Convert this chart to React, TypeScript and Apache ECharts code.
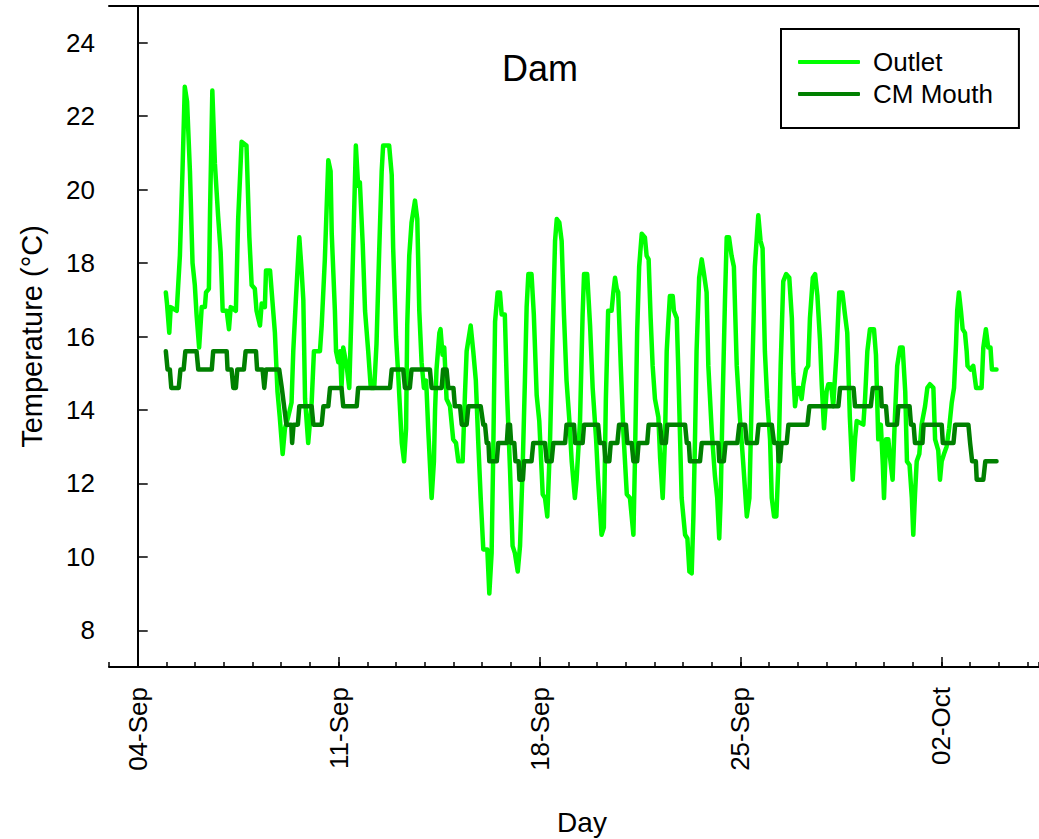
import React, { useEffect, useRef } from "react";
import * as echarts from "echarts";

// Time is in days after 04-Sep 00:00; temperatures in °C.
const outletSeries: [number, number][] = [
  [0.98, 17.2], [1.02, 16.9], [1.10, 16.1], [1.15, 16.8], [1.36, 16.7], [1.47, 18.2], [1.56, 20.5], [1.64, 22.8],
  [1.72, 22.4], [1.82, 20.5], [1.91, 18.0], [1.99, 17.4], [2.05, 16.6], [2.14, 15.7], [2.23, 16.8], [2.34, 16.8],
  [2.38, 17.2], [2.48, 17.3], [2.52, 19.4], [2.60, 22.7], [2.69, 20.7], [2.80, 19.3], [2.89, 18.3], [2.96, 16.7],
  [3.10, 16.7], [3.18, 16.2], [3.24, 16.8], [3.42, 16.7], [3.50, 19.2], [3.62, 21.3], [3.79, 21.2], [3.89, 18.7],
  [3.97, 17.4], [4.08, 17.3], [4.14, 16.7], [4.26, 16.3], [4.32, 16.9], [4.43, 16.8], [4.47, 17.8], [4.61, 17.8],
  [4.70, 16.9], [4.78, 16.1], [4.87, 14.5], [4.95, 13.8], [5.05, 12.8], [5.13, 13.5], [5.24, 13.8], [5.36, 14.2],
  [5.42, 15.6], [5.51, 17.0], [5.63, 18.7], [5.71, 17.8], [5.77, 17.0], [5.83, 14.3], [5.94, 13.1], [6.06, 14.2],
  [6.14, 15.6], [6.35, 15.6], [6.41, 16.3], [6.52, 18.1], [6.64, 20.8], [6.72, 20.5], [6.76, 18.8], [6.87, 16.7],
  [6.91, 15.6], [6.99, 15.3], [7.05, 15.6], [7.10, 14.6], [7.16, 15.7], [7.28, 15.2], [7.37, 14.6], [7.45, 16.7],
  [7.51, 18.5], [7.60, 21.2], [7.68, 20.1], [7.74, 20.2], [7.84, 18.5], [7.92, 16.7], [8.03, 15.6], [8.12, 14.6],
  [8.24, 14.6], [8.32, 15.8], [8.42, 18.5], [8.50, 20.5], [8.55, 21.2], [8.76, 21.2], [8.85, 20.4], [8.90, 18.4],
  [9.00, 16.0], [9.08, 14.9], [9.20, 13.1], [9.28, 12.6], [9.35, 13.5], [9.39, 16.3], [9.46, 18.2], [9.54, 19.1],
  [9.66, 19.7], [9.74, 19.2], [9.81, 16.7], [9.89, 15.3], [9.97, 14.6], [10.05, 14.8], [10.12, 13.5], [10.24, 11.6],
  [10.32, 12.6], [10.36, 14.0], [10.41, 15.1], [10.51, 16.1], [10.55, 16.2], [10.62, 15.5], [10.68, 15.7], [10.76, 14.3],
  [10.88, 14.1], [10.99, 13.2], [11.09, 13.1], [11.17, 12.6], [11.32, 12.6], [11.40, 14.4], [11.46, 15.6], [11.60, 16.3],
  [11.69, 15.6], [11.78, 14.8], [11.86, 13.2], [11.95, 11.6], [12.04, 10.2], [12.18, 10.2], [12.25, 9.0], [12.33, 10.1],
  [12.39, 13.0], [12.45, 16.4], [12.54, 17.2], [12.62, 17.2], [12.68, 16.6], [12.79, 16.6], [12.87, 14.4], [12.97, 12.4],
  [13.06, 10.3], [13.14, 10.1], [13.24, 9.6], [13.32, 10.3], [13.41, 12.4], [13.49, 14.8], [13.55, 16.8], [13.61, 17.7],
  [13.72, 17.7], [13.80, 16.6], [13.90, 14.4], [13.99, 13.7], [14.11, 11.7], [14.19, 11.6], [14.27, 11.1], [14.36, 13.0],
  [14.46, 16.2], [14.54, 18.6], [14.60, 19.2], [14.69, 19.1], [14.77, 18.6], [14.85, 16.6], [14.94, 14.8], [15.04, 13.7],
  [15.12, 12.6], [15.23, 11.6], [15.29, 12.1], [15.41, 13.7], [15.50, 16.6], [15.55, 17.7], [15.66, 17.7], [15.76, 16.3],
  [15.85, 14.6], [15.97, 13.2], [16.04, 12.1], [16.16, 10.6], [16.24, 10.8], [16.31, 14.3], [16.39, 16.7], [16.51, 16.7],
  [16.57, 17.2], [16.63, 17.6], [16.69, 17.3], [16.74, 17.2], [16.83, 15.2], [16.92, 13.4], [17.04, 11.7], [17.15, 11.6],
  [17.21, 11.1], [17.27, 10.6], [17.32, 12.5], [17.40, 16.1], [17.47, 17.9], [17.56, 18.8], [17.67, 18.7], [17.73, 18.2],
  [17.80, 18.1], [17.87, 16.5], [17.94, 15.2], [18.02, 14.3], [18.14, 13.8], [18.20, 12.7], [18.29, 11.6], [18.37, 13.2],
  [18.43, 15.6], [18.48, 16.3], [18.54, 17.1], [18.64, 17.1], [18.68, 16.7], [18.78, 16.5], [18.83, 15.2], [18.89, 13.4],
  [18.95, 11.6], [19.07, 10.6], [19.15, 10.5], [19.22, 9.6], [19.30, 9.55], [19.36, 11.1], [19.42, 13.4], [19.47, 15.6],
  [19.56, 17.6], [19.65, 18.1], [19.73, 17.7], [19.82, 17.2], [19.88, 15.2], [20.00, 13.4], [20.11, 12.2], [20.19, 11.6],
  [20.26, 10.5], [20.31, 11.6], [20.38, 14.3], [20.46, 17.0], [20.52, 18.7], [20.60, 18.7], [20.69, 18.2], [20.77, 17.9],
  [20.87, 15.2], [20.98, 13.8], [21.10, 12.5], [21.22, 11.1], [21.31, 11.6], [21.39, 14.3], [21.50, 17.9], [21.62, 19.3],
  [21.70, 18.6], [21.77, 18.4], [21.85, 15.6], [21.93, 14.3], [22.03, 13.2], [22.09, 11.6], [22.17, 11.1], [22.25, 11.1],
  [22.32, 12.5], [22.40, 15.2], [22.49, 17.5], [22.59, 17.7], [22.70, 17.6], [22.79, 16.5], [22.84, 15.0], [22.90, 14.1],
  [22.98, 14.6], [23.06, 14.6], [23.13, 14.3], [23.19, 14.7], [23.28, 15.1], [23.36, 15.2], [23.42, 16.5], [23.52, 17.6],
  [23.60, 17.7], [23.68, 17.1], [23.77, 15.9], [23.83, 14.7], [23.91, 13.5], [24.00, 14.5], [24.06, 14.7], [24.16, 14.7],
  [24.23, 14.1], [24.35, 15.6], [24.44, 17.2], [24.55, 17.2], [24.64, 16.6], [24.72, 16.1], [24.81, 13.8], [24.91, 12.1],
  [24.99, 13.2], [25.05, 13.7], [25.28, 13.6], [25.34, 14.3], [25.42, 15.6], [25.51, 16.2], [25.65, 16.2], [25.72, 15.5],
  [25.80, 13.2], [25.89, 13.6], [25.96, 12.5], [26.00, 11.6], [26.07, 13.2], [26.15, 13.2], [26.21, 12.7], [26.30, 12.1],
  [26.38, 13.8], [26.46, 15.2], [26.56, 15.7], [26.65, 15.7], [26.74, 14.5], [26.80, 12.6], [26.89, 12.5], [26.97, 11.6],
  [27.02, 10.6], [27.08, 11.7], [27.14, 12.6], [27.23, 12.8], [27.31, 13.6], [27.43, 14.1], [27.51, 14.6], [27.60, 14.7],
  [27.72, 14.6], [27.78, 13.2], [27.89, 12.9], [27.95, 12.1], [28.01, 12.6], [28.09, 12.8], [28.18, 13.0], [28.27, 13.5],
  [28.36, 14.2], [28.44, 14.6], [28.51, 15.8], [28.55, 16.7], [28.61, 17.2], [28.68, 16.7], [28.74, 16.2], [28.82, 16.1],
  [28.88, 15.6], [28.91, 15.2], [29.02, 15.1], [29.11, 15.2], [29.21, 14.6], [29.40, 14.6], [29.46, 15.7], [29.55, 16.2],
  [29.63, 15.7], [29.71, 15.7], [29.76, 15.1], [29.92, 15.1],
];

// CM Mouth logger readings step in roughly half-degree increments.
const cmMouthSeries: [number, number][] = [
  [0.98, 15.6], [1.04, 15.1], [1.12, 15.1], [1.17, 14.6], [1.43, 14.6], [1.49, 15.1], [1.60, 15.1], [1.66, 15.6],
  [2.05, 15.6], [2.11, 15.1], [2.58, 15.1], [2.63, 15.6], [3.10, 15.6], [3.13, 15.1], [3.27, 15.1], [3.33, 14.6],
  [3.42, 14.6], [3.47, 15.1], [3.70, 15.1], [3.76, 15.6], [4.12, 15.6], [4.16, 15.1], [4.35, 15.1], [4.41, 14.6],
  [4.47, 15.1], [4.93, 15.1], [5.02, 14.6], [5.10, 14.1], [5.18, 13.6], [5.35, 13.6], [5.38, 13.1], [5.43, 13.6],
  [5.58, 13.6], [5.63, 14.1], [6.06, 14.1], [6.12, 13.6], [6.41, 13.6], [6.47, 14.1], [6.64, 14.1], [6.70, 14.6],
  [7.10, 14.6], [7.16, 14.1], [7.63, 14.1], [7.68, 14.6], [8.79, 14.6], [8.85, 15.1], [9.25, 15.1], [9.31, 14.6],
  [9.48, 14.6], [9.54, 15.1], [10.18, 15.1], [10.24, 14.6], [10.59, 14.6], [10.64, 15.1], [10.76, 15.1], [10.82, 14.6],
  [11.00, 14.6], [11.05, 14.1], [11.23, 14.1], [11.29, 13.6], [11.46, 13.6], [11.52, 14.1], [11.95, 14.1], [12.04, 13.6],
  [12.10, 13.6], [12.16, 13.1], [12.22, 13.1], [12.25, 12.6], [12.51, 12.6], [12.56, 13.1], [12.86, 13.1], [12.90, 13.6],
  [12.97, 13.6], [13.01, 13.1], [13.12, 13.1], [13.16, 12.6], [13.27, 12.6], [13.30, 12.1], [13.42, 12.1], [13.46, 12.6],
  [13.72, 12.6], [13.78, 13.1], [14.19, 13.1], [14.25, 12.6], [14.42, 12.6], [14.48, 13.1], [14.89, 13.1], [14.94, 13.6],
  [15.20, 13.6], [15.24, 13.1], [15.50, 13.1], [15.55, 13.6], [16.04, 13.6], [16.10, 13.1], [16.25, 13.1], [16.30, 12.6],
  [16.43, 12.6], [16.48, 13.1], [16.71, 13.1], [16.77, 13.6], [17.01, 13.6], [17.06, 13.1], [17.21, 13.1], [17.27, 12.6],
  [17.40, 12.6], [17.45, 13.1], [17.75, 13.1], [17.80, 13.6], [18.20, 13.6], [18.26, 13.1], [18.40, 13.1], [18.45, 13.6],
  [19.07, 13.6], [19.13, 13.1], [19.20, 13.1], [19.24, 12.6], [19.59, 12.6], [19.65, 13.1], [20.23, 13.1], [20.26, 12.6],
  [20.42, 12.6], [20.48, 13.1], [20.89, 13.1], [20.96, 13.6], [21.16, 13.6], [21.22, 13.1], [21.57, 13.1], [21.63, 13.6],
  [22.09, 13.6], [22.17, 13.1], [22.30, 13.1], [22.33, 12.6], [22.38, 12.6], [22.43, 13.1], [22.61, 13.1], [22.67, 13.6],
  [23.33, 13.6], [23.40, 14.1], [24.41, 14.1], [24.47, 14.6], [24.94, 14.6], [24.99, 14.1], [25.54, 14.1], [25.61, 14.6],
  [25.89, 14.6], [25.92, 14.1], [26.07, 14.1], [26.12, 13.6], [26.45, 13.6], [26.50, 14.1], [26.89, 14.1], [26.94, 13.6],
  [27.03, 13.6], [27.08, 13.1], [27.34, 13.1], [27.38, 13.6], [28.01, 13.6], [28.05, 13.1], [28.42, 13.1], [28.48, 13.6],
  [28.94, 13.6], [29.00, 13.1], [29.07, 12.6], [29.20, 12.6], [29.23, 12.1], [29.46, 12.1], [29.53, 12.6], [29.92, 12.6],
];

const weekDays = [0, 7, 14, 21, 28];
const weekLabels = ["04-Sep", "11-Sep", "18-Sep", "25-Sep", "02-Oct"];
const tempTicks = [8, 10, 12, 14, 16, 18, 20, 22, 24];

const FONT = "'Liberation Sans', Arial, Helvetica, sans-serif";
const X_MIN = -1;
const X_MAX = 31.4;
const OUTLET_COLOR = "#00ff00";
const CM_COLOR = "#008000";

export default function App() {
  const ref = useRef<HTMLDivElement>(null);

  useEffect(() => {
    document.body.style.margin = "0";
    const chart = echarts.init(ref.current!, null, { renderer: "svg" });
    const axisLine = { show: true, lineStyle: { color: "#000", width: 2 } };

    chart.setOption({
      animation: false,
      backgroundColor: "#fff",
      title: {
        text: "Dam",
        left: 497,
        top: 45,
        textStyle: { fontFamily: FONT, fontSize: 36, fontWeight: "normal", color: "#000" },
      },
      legend: {
        show: true,
        orient: "vertical",
        left: 781,
        top: 29,
        data: [
          { name: "Outlet", icon: "roundRect" },
          { name: "CM Mouth", icon: "roundRect" },
        ],
        itemWidth: 62,
        itemHeight: 4,
        itemGap: 6,
        padding: [20, 26, 21, 17],
        borderColor: "#000",
        borderWidth: 2,
        borderRadius: 0,
        backgroundColor: "#fff",
        textStyle: { fontFamily: FONT, fontSize: 26, color: "#000", padding: [0, 0, 0, 8] },
      },
      grid: {
        left: 109,
        top: 6,
        right: 0,
        bottom: 172,
        containLabel: false,
        outerBoundsMode: "none",
      },
      xAxis: [
        {
          // daily minor ticks
          type: "value",
          min: X_MIN,
          max: X_MAX,
          interval: 1,
          position: "bottom",
          axisLine,
          axisTick: { show: true, inside: true, length: 5, lineStyle: { color: "#000", width: 1.5 } },
          axisLabel: { show: false },
          splitLine: { show: false },
        },
        {
          // weekly major ticks with date labels
          type: "value",
          min: X_MIN,
          max: X_MAX,
          position: "bottom",
          axisLine: { show: false },
          axisTick: {
            show: true,
            inside: true,
            length: 10,
            customValues: weekDays,
            lineStyle: { color: "#000", width: 1.5 },
          },
          axisLabel: {
            show: true,
            customValues: weekDays,
            rotate: 90,
            margin: 20,
            fontFamily: FONT,
            fontSize: 26,
            color: "#000",
            formatter: (v: number) => weekLabels[weekDays.indexOf(Math.round(v))] ?? "",
          },
          splitLine: { show: false },
          name: "Day",
          nameLocation: "middle",
          nameGap: 141,
          nameTextStyle: { fontFamily: FONT, fontSize: 28, color: "#000", padding: [0, 0, 0, 16] },
        },
        {
          // top frame line
          type: "value",
          min: X_MIN,
          max: X_MAX,
          position: "top",
          axisLine,
          axisTick: { show: false },
          axisLabel: { show: false },
          splitLine: { show: false },
        },
      ],
      yAxis: {
        type: "value",
        min: 7,
        max: 25,
        axisLine,
        axisTick: {
          show: true,
          inside: true,
          length: 10,
          customValues: tempTicks,
          lineStyle: { color: "#000", width: 1.5 },
        },
        axisLabel: {
          show: true,
          customValues: tempTicks,
          margin: 14,
          fontFamily: FONT,
          fontSize: 26,
          color: "#000",
        },
        splitLine: { show: false },
        name: "Temperature (°C)",
        nameLocation: "middle",
        nameGap: 63,
        nameTextStyle: { fontFamily: FONT, fontSize: 29, color: "#000" },
      },
      series: [
        {
          name: "Outlet",
          type: "line",
          xAxisIndex: 0,
          data: outletSeries,
          symbol: "none",
          showSymbol: false,
          itemStyle: { color: OUTLET_COLOR },
          lineStyle: { color: OUTLET_COLOR, width: 4.5, join: "round", cap: "round" },
        },
        {
          name: "CM Mouth",
          type: "line",
          xAxisIndex: 0,
          data: cmMouthSeries,
          symbol: "none",
          showSymbol: false,
          itemStyle: { color: CM_COLOR },
          lineStyle: { color: CM_COLOR, width: 4.5, join: "round", cap: "round" },
        },
      ],
    });

    return () => chart.dispose();
  }, []);

  return (
    <div
      ref={ref}
      style={{ position: "absolute", left: 0, top: 0, width: 1039, height: 839 }}
    />
  );
}
